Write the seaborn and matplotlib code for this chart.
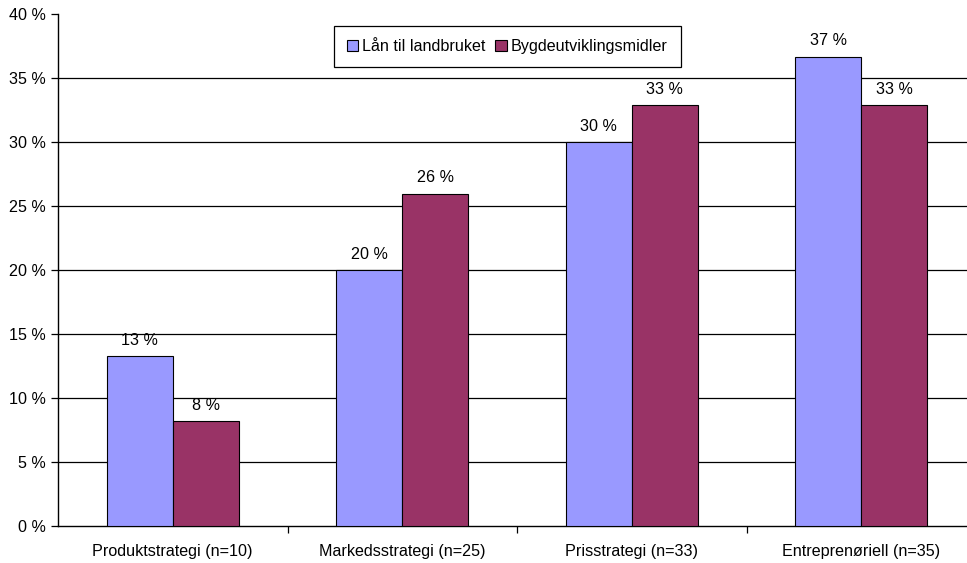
import matplotlib
matplotlib.use("Agg")
import matplotlib.pyplot as plt
import seaborn as sns
import pandas as pd
from matplotlib.patches import Patch

categories = ["Produktstrategi (n=10)", "Markedsstrategi (n=25)", "Prisstrategi (n=33)", "Entreprenøriell (n=35)"]
series_names = ["Lån til landbruket", "Bygdeutviklingsmidler"]
laan = [13.3, 20.0, 30.0, 36.7]
bygd = [8.2, 26.0, 32.9, 32.9]
colors = ["#9999FF", "#993366"]
yticks = [0, 5, 10, 15, 20, 25, 30, 35, 40]

df = pd.DataFrame({
    "cat": categories * 2,
    "series": [series_names[0]] * 4 + [series_names[1]] * 4,
    "val": laan + bygd,
})

sns.set_style("white")
plt.rcParams["font.family"] = ["Liberation Sans", "DejaVu Sans"]
plt.rcParams["text.color"] = "black"
plt.rcParams["xtick.color"] = "black"
plt.rcParams["ytick.color"] = "black"
plt.rcParams["axes.labelcolor"] = "black"

FS = 11.6
W, H = 967, 563
fig = plt.figure(figsize=(W / 100, H / 100), dpi=100)
left, right, bottom, top = 58, 976, 526, 14.5
ax = fig.add_axes([left / W, (H - bottom) / H, (right - left) / W, (bottom - top) / H])

sns.barplot(data=df, x="cat", y="val", hue="series", palette=colors, width=0.575,
            edgecolor="black", linewidth=0.8, ax=ax, legend=False, saturation=1, zorder=3)

ax.set_xlim(-0.5, 3.5)
ax.set_ylim(0, 40)
ax.set_yticks(yticks)
ax.set_yticklabels([f"{t} %" for t in yticks], fontsize=FS, color="black")
ax.set_xticks(range(4))
ax.set_xticklabels(categories, fontsize=FS, color="black")
ax.set_xlabel("")
ax.set_ylabel("")

for t in yticks[1:-1]:
    ax.axhline(t, color="black", linewidth=0.9, zorder=1)
ax.axhline(40, color="#999999", linewidth=1.2, zorder=1)

for s in ["right", "top"]:
    ax.spines[s].set_visible(False)
for s in ["left", "bottom"]:
    ax.spines[s].set_color("black")
    ax.spines[s].set_linewidth(1.0)

ax.tick_params(axis="y", which="major", length=5, width=0.9, color="black", direction="out", left=True, pad=4)
ax.tick_params(axis="x", which="major", length=0, pad=13)
ax.set_xticks([0.5, 1.5, 2.5], minor=True)
ax.tick_params(axis="x", which="minor", length=5, width=0.9, color="black", direction="out", bottom=True)

for cont in ax.containers:
    labels = [f"{round(b.get_height())} %" for b in cont]
    ax.bar_label(cont, labels=labels, padding=6, fontsize=FS, color="black")

handles = [Patch(facecolor=c, edgecolor="black", linewidth=0.8) for c in colors]
leg = ax.legend(handles, series_names, loc="upper center", bbox_to_anchor=(0.4895, 0.9775),
                ncol=2, frameon=True, fancybox=False, edgecolor="black", fontsize=FS,
                handlelength=0.7, handleheight=0.7, handletextpad=0.25, columnspacing=0.6,
                borderpad=0.8, borderaxespad=0, framealpha=1)
leg.get_frame().set_linewidth(0.9)

fig.savefig("out.png", dpi=100)
